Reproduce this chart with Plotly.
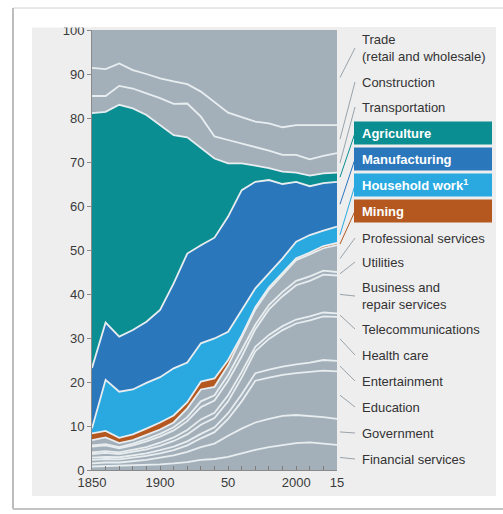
import plotly.graph_objects as go

# ---- data (upper edge of each layer, % of total employment) ----
years = ["1850", "1860", "1870", "1880", "1890", "1900", "1910", "1920", "1930", "1940",
         "1950", "1960", "1970", "1980", "1990", "2000", "2005", "2010", "2015"]
tick_text = {0: "1850", 5: "1900", 10: "50", 15: "2000", 18: "15"}

financial      = [0.8, 0.9, 0.9, 1.0, 1.1, 1.3, 1.5, 1.8, 2.3, 2.5, 3.0, 3.8, 4.6, 5.2, 5.7, 6.1, 6.3, 6.0, 5.7]
government     = [1.5, 1.7, 1.7, 2.0, 2.3, 2.8, 3.3, 4.1, 5.2, 6.0, 7.8, 9.4, 10.8, 11.6, 12.3, 12.5, 12.3, 12.0, 11.6]
education      = [2.3, 2.5, 2.4, 2.8, 3.2, 3.8, 4.5, 5.6, 7.2, 8.6, 11.6, 15.6, 20.3, 21.0, 21.6, 22.0, 22.3, 22.6, 22.4]
entertainment  = [2.8, 3.0, 2.9, 3.3, 3.8, 4.5, 5.3, 6.5, 8.2, 9.7, 12.9, 17.2, 22.0, 22.8, 23.5, 24.0, 24.4, 25.0, 24.8]
health_care    = [3.6, 3.9, 3.6, 4.1, 4.7, 5.5, 6.6, 8.1, 10.3, 11.8, 15.6, 21.0, 27.0, 29.8, 31.8, 33.3, 34.0, 34.9, 34.8]
telecom        = [4.0, 4.3, 4.0, 4.6, 5.2, 6.2, 7.4, 9.1, 11.5, 13.0, 17.0, 22.3, 28.0, 30.7, 32.7, 34.2, 34.9, 35.8, 35.6]
business       = [5.3, 5.6, 4.9, 5.6, 6.5, 7.6, 9.0, 11.1, 14.3, 15.8, 20.3, 25.8, 32.0, 36.5, 39.5, 42.0, 43.0, 44.4, 44.2]
utilities      = [5.6, 5.9, 5.2, 6.0, 7.0, 8.2, 9.7, 12.0, 15.6, 17.0, 21.6, 27.3, 33.0, 37.5, 40.5, 43.0, 44.0, 45.3, 45.0]
professional   = [6.8, 7.4, 6.1, 6.8, 8.0, 9.2, 10.8, 14.0, 18.3, 18.9, 23.8, 30.0, 36.5, 41.0, 44.4, 47.7, 49.0, 50.4, 51.1]
mining         = [8.3, 8.9, 7.3, 8.1, 9.4, 10.8, 12.4, 15.4, 20.1, 20.8, 25.0, 30.6, 37.0, 41.5, 44.8, 48.1, 49.4, 50.9, 51.6]
household      = [9.5, 20.5, 17.8, 18.3, 19.8, 21.1, 23.1, 24.4, 28.8, 29.9, 31.4, 36.4, 41.3, 44.7, 48.1, 51.9, 53.4, 54.4, 55.3]
manufacturing  = [23.2, 33.5, 30.3, 31.8, 33.7, 36.4, 42.4, 49.2, 51.1, 52.8, 57.6, 63.6, 65.5, 65.9, 65.0, 65.5, 64.5, 65.2, 65.5]
agriculture    = [81.1, 81.4, 83.0, 82.2, 80.7, 78.4, 76.1, 75.6, 73.1, 70.8, 69.7, 69.7, 69.2, 68.6, 67.8, 67.6, 66.9, 67.4, 67.6]
transportation = [85.0, 85.0, 87.3, 86.7, 85.6, 84.5, 83.2, 83.3, 80.3, 75.8, 75.0, 74.2, 73.5, 72.6, 71.6, 71.6, 70.6, 71.4, 72.0]
construction   = [91.4, 91.1, 92.4, 90.9, 90.0, 89.0, 88.3, 87.7, 86.0, 83.7, 81.2, 80.2, 79.2, 78.8, 77.9, 78.4, 78.4, 78.4, 78.4]
trade          = [100] * 19

GRAY = "#a3b0ba"
TEAL = "#0a8e92"
BLUE = "#2b77bc"
LBLUE = "#29a9df"
ORANGE = "#b4581f"
SEP = "#e8edf0"

# (name, upper edge, colour, label text, label y in px, coloured box?)
layers = [
    ("Financial services", financial, GRAY, "Financial services", 459, False),
    ("Government", government, GRAY, "Government", 433, False),
    ("Education", education, GRAY, "Education", 407, False),
    ("Entertainment", entertainment, GRAY, "Entertainment", 381, False),
    ("Health care", health_care, GRAY, "Health care", 355, False),
    ("Telecommunications", telecom, GRAY, "Telecommunications", 329, False),
    ("Business and repair services", business, GRAY, "Business and<br>repair services", 296, False),
    ("Utilities", utilities, GRAY, "Utilities", 262, False),
    ("Professional services", professional, GRAY, "Professional services", 238, False),
    ("Mining", mining, ORANGE, "<b>Mining</b>", 211, True),
    ("Household work", household, LBLUE, "<b>Household work<sup>1</sup></b>", 185, True),
    ("Manufacturing", manufacturing, BLUE, "<b>Manufacturing</b>", 159, True),
    ("Agriculture", agriculture, TEAL, "<b>Agriculture</b>", 133, True),
    ("Transportation", transportation, GRAY, "Transportation", 107, False),
    ("Construction", construction, GRAY, "Construction", 82, False),
    ("Trade (retail and wholesale)", trade, GRAY, "Trade<br>(retail and wholesale)", 48, False),
]

W, H = 503, 514
L, R, T, B = 92, 337, 30, 470


def px(x):
    return (x - L) / (R - L)


def py(y):
    return (B - y) / (B - T)


xs = list(range(len(years)))
fig = go.Figure()
for i, (name, top, col, _, _, _) in enumerate(layers):
    last = i == len(layers) - 1
    fig.add_trace(go.Scatter(
        x=xs, y=top, name=name, mode="lines",
        fill="tozeroy" if i == 0 else "tonexty",
        fillcolor=col,
        line=dict(color=SEP, width=0 if last else 1.8),
        hoverinfo="name+y",
    ))

FONT = "Liberation Sans, Arial, sans-serif"
shapes = []
annotations = []

# outer card + inner panel
shapes.append(dict(type="rect", xref="paper", yref="paper", layer="below",
                   x0=px(13), x1=px(504), y0=py(509), y1=py(8),
                   fillcolor="#ffffff", line=dict(color="#d0d0d0", width=1)))
shapes.append(dict(type="line", xref="paper", yref="paper", layer="below",
                   x0=px(13), x1=px(13), y0=py(509), y1=py(8),
                   line=dict(color="#bdbdbd", width=2)))
shapes.append(dict(type="line", xref="paper", yref="paper", layer="below",
                   x0=px(13), x1=px(504), y0=py(509), y1=py(509),
                   line=dict(color="#c4c4c4", width=2)))
shapes.append(dict(type="rect", xref="paper", yref="paper", layer="below",
                   x0=px(32), x1=px(496), y0=py(496), y1=py(27),
                   fillcolor="#eeeeef", line=dict(width=0)))
# cover the clipped top of the "100" label
shapes.append(dict(type="rect", xref="paper", yref="paper", layer="above",
                   x0=px(32), x1=px(91), y0=py(27.5), y1=py(15),
                   fillcolor="#ffffff", line=dict(width=0)))

prev_last = 0
for i, (name, top, col, text, ly, boxed) in enumerate(layers):
    mid = (prev_last + top[-1]) / 2
    prev_last = top[-1]
    if boxed:
        shapes.append(dict(type="rect", xref="paper", yref="paper",
                           x0=px(354), x1=px(492), y0=py(ly + 11.5), y1=py(ly - 11.5),
                           fillcolor=col, line=dict(width=0)))
    ccol = col if col != GRAY else "#98a3ab"
    shapes.append(dict(type="line", xref="paper", yref="paper",
                       x0=px(340), x1=px(355), y0=mid / 100, y1=py(ly),
                       line=dict(color=ccol, width=1)))
    annotations.append(dict(xref="paper", yref="paper", x=px(360), y=py(ly),
                            xanchor="left", yanchor="middle", showarrow=False,
                            text=text, align="left",
                            font=dict(family=FONT, size=13,
                                      color="#ffffff" if boxed else "#333333")))

fig.update_layout(
    width=W, height=H,
    margin=dict(l=L, r=W - R, t=T, b=H - B, pad=0),
    paper_bgcolor="#ffffff", plot_bgcolor="rgba(0,0,0,0)",
    showlegend=False,
    shapes=shapes, annotations=annotations,
    font=dict(family=FONT, size=13, color="#3a3a3a"),
    xaxis=dict(range=[0, 18], tickmode="array", tickvals=xs,
               ticktext=[tick_text.get(i, "") for i in xs],
               ticks="inside", ticklen=4, tickcolor="#7d7d7d", tickwidth=1,
               showline=True, linecolor="#8a8a8a", linewidth=1,
               showgrid=False, zeroline=False, fixedrange=True,
               tickfont=dict(family=FONT, size=13, color="#3a3a3a")),
    yaxis=dict(range=[0, 100], tickmode="array", tickvals=list(range(0, 101, 10)),
               ticks="outside", ticklen=4, tickcolor="#8a8a8a", tickwidth=1,
               showline=True, linecolor="#8a8a8a", linewidth=1,
               showgrid=False, zeroline=False, fixedrange=True,
               tickfont=dict(family=FONT, size=13, color="#3a3a3a")),
)

fig.write_html("out.html", config={"displayModeBar": False},
               post_script="document.body.style.margin='0';document.body.style.overflow='hidden';")
